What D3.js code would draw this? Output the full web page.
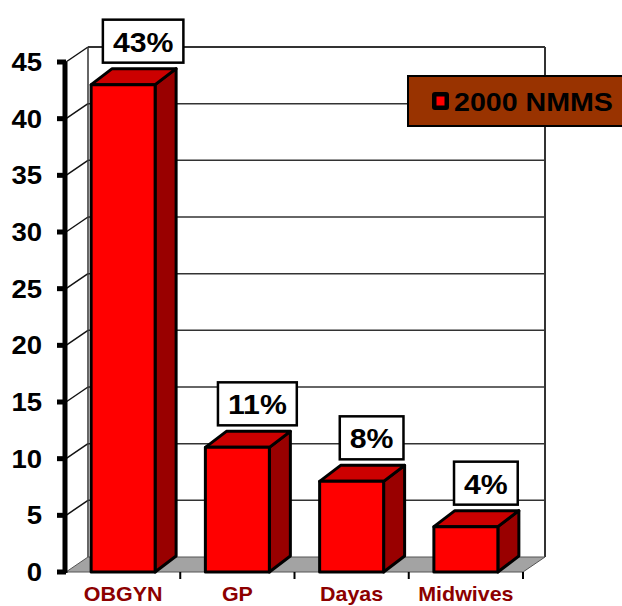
<!DOCTYPE html>
<html>
<head>
<meta charset="utf-8">
<script src="https://cdn.jsdelivr.net/npm/d3@7"></script>
<style>
  html, body { margin: 0; padding: 0; background: #fff; }
  svg { display: block; }
  text { font-family: "Liberation Sans", Arial, sans-serif; font-weight: bold; }
</style>
</head>
<body>
<svg id="chart" width="622" height="606"></svg>
<script>
// Share of providers, 2000 NMMS
const categories = ["OBGYN", "GP", "Dayas", "Midwives"];
const values = [43, 11, 8, 4];
const valueLabels = ["43%", "11%", "8%", "4%"];
const yTicks = [0, 5, 10, 15, 20, 25, 30, 35, 40, 45];
const seriesName = "2000 NMMS";

const svg = d3.select("#chart");

// plot frame (front plane)
const x0 = 66, x1 = 523, yBase = 572, yTop = 62;
// depth of the walls and of the bars (oblique projection)
const wallDx = 22, wallDy = -15;
const barDx = 21, barDy = -16;
const stretch = 1.1;

const y = d3.scaleLinear().domain([0, 45]).range([yBase, yTop]);
const x = d3.scaleBand().domain(categories).range([x0, x1])
  .paddingInner(0.44).paddingOuter(0.22);

const gridColor = "#333";

// back wall grid lines + side wall diagonals
const grid = svg.append("g");
yTicks.filter(t => t > 0).forEach(t => {
  const yy = y(t);
  grid.append("line")
    .attr("x1", x0 + wallDx).attr("y1", yy + wallDy)
    .attr("x2", x1 + wallDx).attr("y2", yy + wallDy)
    .attr("stroke", gridColor).attr("stroke-width", t === 45 ? 2 : 1.5);
  grid.append("line")
    .attr("x1", x0).attr("y1", yy)
    .attr("x2", x0 + wallDx).attr("y2", yy + wallDy)
    .attr("stroke", "#111").attr("stroke-width", 1.5);
});
// back wall vertical edges
grid.append("line")
  .attr("x1", x0 + wallDx).attr("y1", y(45) + wallDy)
  .attr("x2", x0 + wallDx).attr("y2", yBase + wallDy)
  .attr("stroke", gridColor).attr("stroke-width", 1.5);
grid.append("line")
  .attr("x1", x1 + wallDx).attr("y1", y(45) + wallDy)
  .attr("x2", x1 + wallDx).attr("y2", yBase + wallDy)
  .attr("stroke", gridColor).attr("stroke-width", 2);

// floor
svg.append("path")
  .attr("d", d3.line()([[x0, yBase], [x1, yBase], [x1 + wallDx, yBase + wallDy], [x0 + wallDx, yBase + wallDy]]) + "Z")
  .attr("fill", "#a3a3a3").attr("stroke", "#555").attr("stroke-width", 1);

// category ticks below the floor
const catEdges = categories.map(c => x(c) - x.step() * x.paddingInner() / 2 + x.step());
svg.append("g").selectAll("line").data(catEdges).join("line")
  .attr("x1", d => d).attr("x2", d => d)
  .attr("y1", yBase).attr("y2", yBase + 7)
  .attr("stroke", "#000").attr("stroke-width", 2);

// bars
const bw = x.bandwidth();
const bars = svg.append("g").selectAll("g").data(categories).join("g");
bars.each(function (c, i) {
  const g = d3.select(this);
  const bx = x(c), top = y(values[i]);
  const poly = pts => d3.line()(pts) + "Z";
  g.append("path")
    .attr("d", poly([[bx + bw, top], [bx + bw + barDx, top + barDy], [bx + bw + barDx, yBase + barDy], [bx + bw, yBase]]))
    .attr("fill", "#990000");
  g.append("path")
    .attr("d", poly([[bx, top], [bx + barDx, top + barDy], [bx + bw + barDx, top + barDy], [bx + bw, top]]))
    .attr("fill", "#cc0000");
  g.append("rect")
    .attr("x", bx).attr("y", top).attr("width", bw).attr("height", yBase - top)
    .attr("fill", "#ff0000");
  g.selectAll("path, rect").attr("stroke", "#000").attr("stroke-width", 3)
    .attr("stroke-linejoin", "round");
});

// value label boxes above each bar
bars.each(function (c, i) {
  const g = d3.select(this);
  const cx = x(c) + bw / 2 + barDx - 1;
  const boxBottom = y(values[i]) + barDy - 6;
  const boxH = 43;
  const t = g.append("text")
    .attr("transform", `translate(${cx},${boxBottom - 11}) scale(${stretch},1)`)
    .attr("text-anchor", "middle")
    .attr("font-size", 27.5)
    .attr("fill", "#000")
    .text(valueLabels[i]);
  const tw = t.node().getComputedTextLength() * stretch;
  g.insert("rect", "text")
    .attr("x", cx - tw / 2 - 10).attr("y", boxBottom - boxH)
    .attr("width", tw + 20).attr("height", boxH)
    .attr("fill", "#fff").attr("stroke", "#000").attr("stroke-width", 2.5);
});

// category labels
svg.append("g").selectAll("text").data(categories).join("text")
  .attr("transform", d => `translate(${x(d) + bw / 2},601) scale(${stretch},1)`)
  .attr("text-anchor", "middle")
  .attr("font-size", 19.5)
  .attr("fill", "#8c0000")
  .text(d => d);

// y axis
const ax = svg.append("g");
ax.append("line")
  .attr("x1", x0 - 1).attr("x2", x0 - 1)
  .attr("y1", y(45)).attr("y2", yBase + 1)
  .attr("stroke", "#000").attr("stroke-width", 5);
ax.selectAll("rect.tick").data(yTicks).join("rect")
  .attr("class", "tick")
  .attr("x", x0 - 9).attr("y", d => y(d) - 2.5)
  .attr("width", 9).attr("height", 5)
  .attr("fill", "#000");
ax.selectAll("text").data(yTicks).join("text")
  .attr("transform", d => `translate(42,${y(d) + 9}) scale(${stretch},1)`)
  .attr("text-anchor", "end")
  .attr("font-size", 25)
  .attr("fill", "#000")
  .text(d => d);

// legend
const lg = svg.append("g");
lg.append("rect")
  .attr("x", 408).attr("y", 76).attr("width", 240).attr("height", 50)
  .attr("fill", "#993300").attr("stroke", "#000").attr("stroke-width", 2);
lg.append("rect")
  .attr("x", 432).attr("y", 92).attr("width", 17).attr("height", 18).attr("rx", 3)
  .attr("fill", "#000");
lg.append("rect")
  .attr("x", 436.5).attr("y", 96.5).attr("width", 8).attr("height", 9)
  .attr("fill", "#ff0000");
lg.append("text")
  .attr("transform", `translate(454,111) scale(${stretch},1)`)
  .attr("font-size", 26)
  .attr("fill", "#000")
  .text(seriesName);
</script>
</body>
</html>
